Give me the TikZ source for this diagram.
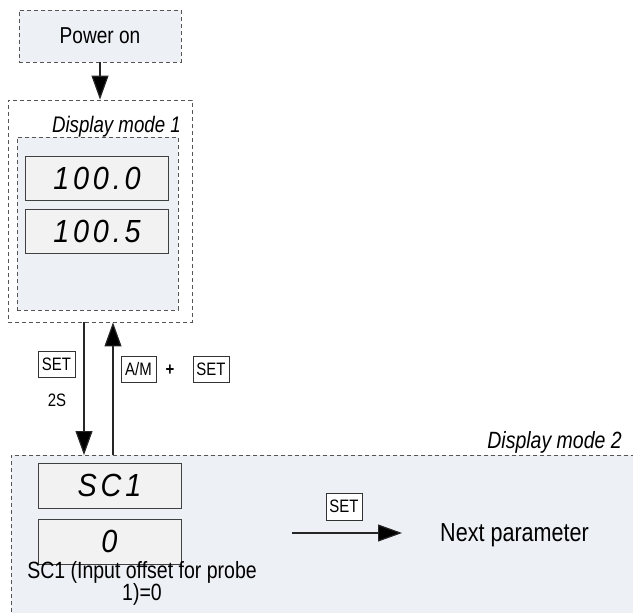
\documentclass[tikz,border=0pt]{standalone}
\usepackage{fontspec}
\setmainfont{Liberation Sans}[FakeStretch=0.83]
\newfontfamily\segfont{Liberation Sans}[LetterSpace=12, FakeStretch=0.9]
\usetikzlibrary{arrows.meta}
\definecolor{panel}{HTML}{EDF0F5}
\definecolor{lcd}{HTML}{F2F2F2}
\definecolor{dashc}{HTML}{555555}
\begin{document}
\begin{tikzpicture}[x=1pt,y=-1pt,
  dashbox/.style={draw=dashc, dash pattern=on 4pt off 3pt, line width=0.9pt, inner sep=0},
  lcdbox/.style={draw=black!75, fill=lcd, line width=1pt, inner sep=0, minimum width=143pt,
     font=\segfont\itshape\fontsize{32}{32}\selectfont},
  keybox/.style={draw=black!80, fill=white, line width=0.8pt, inner sep=0,
     minimum width=36pt, minimum height=26pt, font=\fontsize{18}{18}\selectfont},
  plain/.style={inner sep=0, font=\fontsize{18}{18}\selectfont},
  modelabel/.style={inner sep=0, anchor=base east, font=\itshape\fontsize{22.5}{22.5}\selectfont},
  arr/.style={draw=black!85, line width=1.2pt, -{Triangle[length=24pt,width=17pt,fill=black]}}]
\clip (0,0) rectangle (633,613);
\fill[white] (0,0) rectangle (633,613);

% Power on
\node[dashbox, fill=panel, minimum width=162pt, minimum height=52pt,
  font=\fontsize{23}{23}\selectfont] (power) at (100,36) {Power on};

% Display mode 1
\node[dashbox, minimum width=184pt, minimum height=222pt] (dm1) at (100,211) {};
\node[modelabel] (dm1lab) at (181,132) {Display mode 1};
\node[dashbox, fill=panel, minimum width=161pt, minimum height=173pt] (dm1in) at (97.5,223.5) {};
\node[lcdbox, minimum height=44pt] (lcd1) at (97,178) {100.0};
\node[lcdbox, minimum height=44pt] (lcd2) at (97,231) {100.5};

% Display mode 2
\node[dashbox, fill=panel, minimum width=660pt, minimum height=200pt, anchor=north west] (dm2) at (11,455) {};
\node[modelabel, font=\itshape\fontsize{23.5}{23.5}\selectfont] (dm2lab) at (622,448) {Display mode 2};
\node[lcdbox, minimum height=45pt] (lcd3) at (109.5,485.5) {SC1};
\node[lcdbox, minimum height=45pt] (lcd4) at (109.5,541.5) {0};
\node[inner sep=0, align=center, font=\fontsize{23.5}{22}\selectfont] (sclab) at (142,583) {SC1 (Input offset for probe\\1)=0};

% connectors
\draw[arr] (power) -- (dm1);
\coordinate (dx) at (84,0);
\coordinate (ux) at (113,0);
\draw[arr] (dm1.south -| dx) -- (dm2.north -| dx);
\draw[arr] (dm2.north -| ux) -- (dm1.south -| ux);

% key labels
\node[keybox, minimum width=37pt] (set1) at (56.5,364) {SET};
\node[plain] (twos) at (57,400) {2S};
\node[keybox, minimum width=35pt] (am) at (138.5,369) {A/M};
\node[plain, font=\bfseries\fontsize{18}{18}\selectfont] (plus) at (170,370) {+};
\node[keybox] (set2) at (211,369) {SET};
\node[keybox, minimum height=27pt] (set3) at (344,506.5) {SET};

% next parameter
\node[inner sep=0, anchor=west, font=\fontsize{26}{26}\selectfont] (next) at (440,535) {Next parameter};
\coordinate (hs) at (292,533);
\coordinate (he) at (402,533);
\draw[arr] (hs) -- (he);
\end{tikzpicture}
\end{document}
